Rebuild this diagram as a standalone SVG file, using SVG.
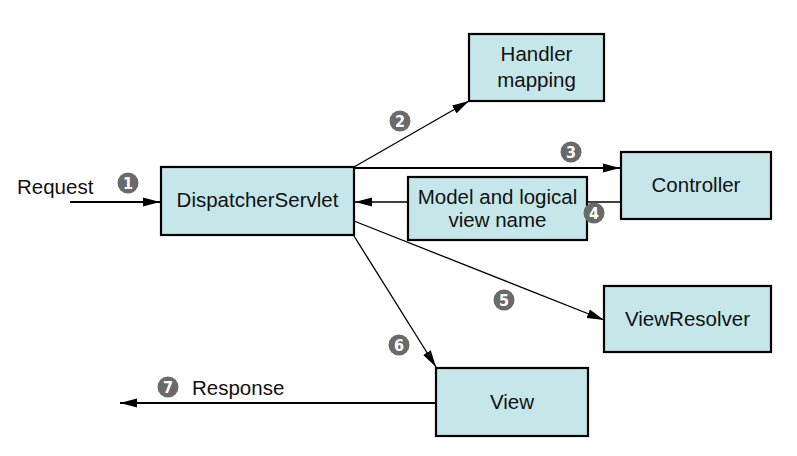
<svg xmlns="http://www.w3.org/2000/svg" width="797" height="456" viewBox="0 0 797 456">
<defs>
<style>
.box{fill:#c5e7ea;stroke:#000;stroke-width:2.2}
.t{font-family:"Liberation Sans",Arial,sans-serif;font-size:20.5px;fill:#111;text-anchor:middle}
.tl{font-family:"Liberation Sans",Arial,sans-serif;font-size:20.5px;fill:#111}
.c{stroke:#000;fill:none}
.thin{stroke-width:1.3}
.thick{stroke-width:2}
.badge{fill:#6a6a6a}
.bn{font-family:"Liberation Sans Narrow","DejaVu Sans Condensed","Liberation Sans",sans-serif;font-size:16px;font-weight:bold;fill:#fff;text-anchor:middle}
</style>
<marker id="ah" markerUnits="userSpaceOnUse" markerWidth="18" markerHeight="10" refX="17" refY="5" orient="auto">
<path d="M0,0.5 L17,5 L0,9.5 Z" fill="#000"/>
</marker>
</defs>
<rect width="797" height="456" fill="#fff"/>
<g id="connectors">
<line class="c thick" x1="70" y1="202" x2="160" y2="202" marker-end="url(#ah)"/>
<line class="c thin" x1="354" y1="167" x2="469" y2="101" marker-end="url(#ah)"/>
<line class="c thick" x1="354" y1="168" x2="620" y2="168" marker-end="url(#ah)"/>
<line class="c thin" x1="621" y1="202" x2="587" y2="202"/>
<line class="c thin" x1="408" y1="202" x2="355" y2="202" marker-end="url(#ah)"/>
<line class="c thin" x1="354" y1="221" x2="604" y2="320" marker-end="url(#ah)"/>
<line class="c thin" x1="354" y1="236" x2="436" y2="367" marker-end="url(#ah)"/>
<line class="c thick" x1="436" y1="403" x2="120" y2="403" marker-end="url(#ah)"/>
</g>
<g id="dispatcher">
<rect class="box" x="161" y="167" width="193" height="68"/>
<text class="t" x="257.5" y="207">DispatcherServlet</text>
</g>
<g id="handler">
<rect class="box" x="469" y="34" width="135" height="67"/>
<text class="t" x="536.5" y="61">Handler</text>
<text class="t" x="536.5" y="86.5">mapping</text>
</g>
<g id="controller">
<rect class="box" x="621" y="152" width="150" height="67"/>
<text class="t" x="696" y="192">Controller</text>
</g>
<g id="model">
<rect class="box" x="408" y="177" width="179" height="63"/>
<text class="t" x="497.5" y="204">Model and logical</text>
<text class="t" x="497.5" y="227">view name</text>
</g>
<g id="viewresolver">
<rect class="box" x="604" y="286" width="167" height="66"/>
<text class="t" x="687.5" y="326">ViewResolver</text>
</g>
<g id="view">
<rect class="box" x="436" y="368" width="152" height="68"/>
<text class="t" x="512" y="409">View</text>
</g>
<g id="labels">
<text class="tl" x="17" y="194">Request</text>
<text class="tl" x="192" y="395">Response</text>
</g>
<g id="badges">
<circle class="badge" cx="128" cy="183" r="10.5"/><text class="bn" x="128" y="189">1</text>
<circle class="badge" cx="400" cy="121" r="10.5"/><text class="bn" x="400" y="127">2</text>
<circle class="badge" cx="571" cy="152" r="10.5"/><text class="bn" x="571" y="158">3</text>
<circle class="badge" cx="594" cy="213" r="10.5"/><text class="bn" x="594" y="219">4</text>
<circle class="badge" cx="504" cy="300" r="10.5"/><text class="bn" x="504" y="306">5</text>
<circle class="badge" cx="399" cy="345" r="10.5"/><text class="bn" x="399" y="351">6</text>
<circle class="badge" cx="168" cy="387" r="10.5"/><text class="bn" x="168" y="393">7</text>
</g>
</svg>
